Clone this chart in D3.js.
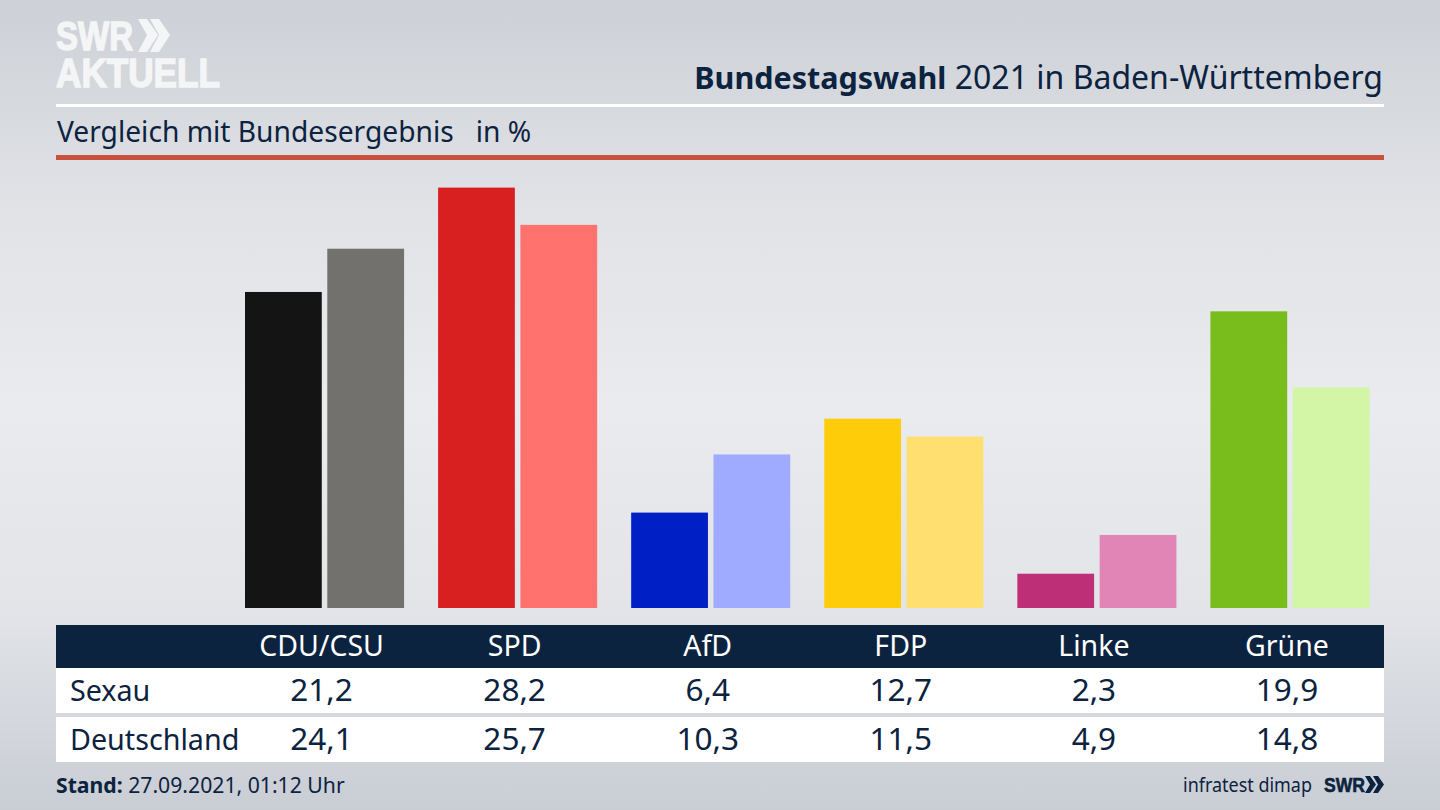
<!DOCTYPE html>
<html>
<head>
<meta charset="utf-8">
<script src="https://cdn.jsdelivr.net/npm/d3@7"></script>
<style>
html, body { margin: 0; padding: 0; background: #d8dbe0; overflow: hidden; }
svg { display: block; }
text { font-family: "Noto Sans", sans-serif; fill: #0c2340; }
</style>
</head>
<body>
<svg id="chart" width="1440" height="810"></svg>
<script>
const parties = ['CDU/CSU', 'SPD', 'AfD', 'FDP', 'Linke', 'Grüne'];
const regions = ['Sexau', 'Deutschland'];
const sexau = [21.2, 28.2, 6.4, 12.7, 2.3, 19.9];
const deutschland = [24.1, 25.7, 10.3, 11.5, 4.9, 14.8];
const darkColors = ['#141414', '#d7201f', '#0020c6', '#ffcc0a', '#bd3078', '#78bd1c'];
const lightColors = ['#73716e', '#ff726e', '#9eabff', '#ffdf70', '#e085b5', '#d2f6a6'];

const navy = '#0c2340';
const svg = d3.select('#chart');

// Background
const defs = svg.append('defs');
const bg = defs.append('linearGradient').attr('id', 'bg').attr('x1', 0).attr('x2', 0).attr('y1', 0).attr('y2', 1);
bg.append('stop').attr('offset', '0%').attr('stop-color', '#cdd0d6');
bg.append('stop').attr('offset', '25%').attr('stop-color', '#e0e2e6');
bg.append('stop').attr('offset', '50%').attr('stop-color', '#e9ebee');
bg.append('stop').attr('offset', '75%').attr('stop-color', '#e2e4e8');
bg.append('stop').attr('offset', '100%').attr('stop-color', '#c9cdd4');
svg.append('rect').attr('width', 1440).attr('height', 810).attr('fill', 'url(#bg)');

// Logo
const logoColor = '#f4f5f6';
const logoText = (txt, yPos, size, len) => svg.append('text')
    .attr('x', 56).attr('y', yPos).text(txt)
    .style('fill', logoColor).style('stroke', logoColor).style('stroke-width', 1.5)
    .style('font-family', 'Liberation Sans').style('font-weight', 700).style('font-size', size + 'px')
    .attr('textLength', len).attr('lengthAdjust', 'spacingAndGlyphs');
logoText('SWR', 50, 41, 77);
logoText('AKTUELL', 87, 40, 164);
[138, 150].forEach(cx => {
    svg.append('path').attr('fill', logoColor).attr('d', `M${cx},19 h9 l11,16 l-11,17 h-9 l9,-17 z`);
});

// Header
svg.append('text').attr('x', 1383).attr('y', 89).attr('text-anchor', 'end')
    .call(t => t.append('tspan').style('font-weight', 700).style('font-size', '30.5px').text('Bundestagswahl'))
    .call(t => t.append('tspan').style('font-size', '32px').text(' 2021 in Baden-Württemberg'));
svg.append('rect').attr('x', 56).attr('y', 104).attr('width', 1328).attr('height', 3).attr('fill', '#fff');
svg.append('text').attr('x', 57).attr('y', 142).style('font-size', '28.2px').attr('xml:space', 'preserve')
    .text('Vergleich mit Bundesergebnis   in %');
svg.append('rect').attr('x', 56).attr('y', 155).attr('width', 1328).attr('height', 5).attr('fill', '#c8503c');

// Scales
const x0 = d3.scaleBand().domain(parties).range([245, 1369.5]).paddingInner(34 / 193);
const x1 = d3.scaleBand().domain(regions).range([0, x0.bandwidth()]).paddingInner(5.5 / 82);
const y = d3.scaleLinear().domain([0, 28.2]).range([608, 187.6]);

// Bars
const groups = svg.append('g').selectAll('g').data(parties).join('g')
    .attr('transform', d => `translate(${x0(d)},0)`);
groups.selectAll('rect')
    .data((d, i) => [
        { region: regions[0], value: sexau[i], color: darkColors[i] },
        { region: regions[1], value: deutschland[i], color: lightColors[i] }
    ])
    .join('rect')
    .attr('x', d => x1(d.region))
    .attr('y', d => y(d.value))
    .attr('width', x1.bandwidth())
    .attr('height', d => y(0) - y(d.value))
    .attr('fill', d => d.color);

// Table
const textX = d => x0(d) + x0.bandwidth() / 2 - 3;
svg.append('rect').attr('x', 56).attr('y', 625).attr('width', 1328).attr('height', 43).attr('fill', navy);
svg.append('rect').attr('x', 56).attr('y', 668).attr('width', 1328).attr('height', 45).attr('fill', '#fff');
svg.append('rect').attr('x', 56).attr('y', 717).attr('width', 1328).attr('height', 45).attr('fill', '#fff');

svg.append('g').selectAll('text').data(parties).join('text')
    .attr('x', textX).attr('y', 656).attr('text-anchor', 'middle')
    .style('fill', '#fff').style('font-size', '28.5px').text(d => d);

const fmt = v => v.toFixed(1).replace('.', ',');
[sexau, deutschland].forEach((vals, r) => {
    const baseY = r === 0 ? 701 : 750;
    svg.append('text').attr('x', 70).attr('y', baseY).style('font-size', '28.7px').text(regions[r]);
    svg.append('g').selectAll('text').data(vals).join('text')
        .attr('x', (d, i) => textX(parties[i])).attr('y', baseY).attr('text-anchor', 'middle')
        .style('font-size', '31.5px').text(fmt);
});

// Footer
svg.append('text').attr('x', 56).attr('y', 793).style('font-size', '21.2px')
    .call(t => t.append('tspan').style('font-weight', 700).text('Stand:'))
    .call(t => t.append('tspan').text(' 27.09.2021, 01:12 Uhr'));
svg.append('text').attr('x', 1183).attr('y', 792)
    .style('font-size', '20px').attr('textLength', 129).attr('lengthAdjust', 'spacingAndGlyphs').text('infratest dimap');
svg.append('text').attr('x', 1324).attr('y', 792)
    .style('font-family', 'Liberation Sans').style('font-weight', 700).style('font-size', '21px')
    .style('stroke', navy).style('stroke-width', 0.6)
    .attr('textLength', 41).attr('lengthAdjust', 'spacingAndGlyphs').text('SWR');
[1365, 1373].forEach(cx => {
    svg.append('path').attr('fill', navy).attr('d', `M${cx},776 h5 l6,8.5 l-6,8.5 h-5 l5,-8.5 z`);
});
</script>
</body>
</html>
